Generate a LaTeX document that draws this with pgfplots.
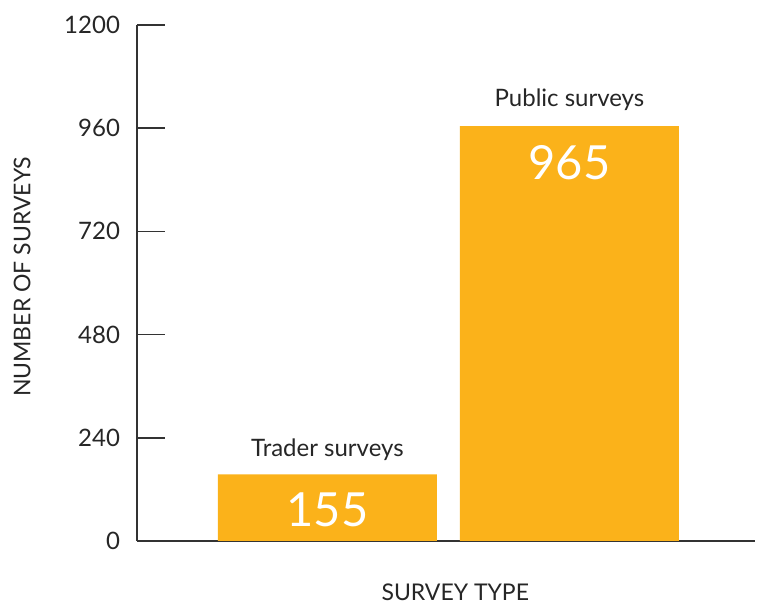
\documentclass[border=0pt]{standalone}
\usepackage{pgfplots}
\pgfplotsset{compat=1.18}
\usepackage{fontspec}
\setmainfont{Lato}
\definecolor{barorange}{RGB}{251,178,26}
\definecolor{axgray}{RGB}{51,51,51}
\begin{document}
\begin{tikzpicture}
\path[use as bounding box] (-68.5pt,-31pt) rectangle (315.5pt,270.5pt);
\begin{axis}[
  at={(0,0)}, anchor=origin,
  scale only axis, width=309pt, height=258pt,
  xmin=0.213, xmax=2.767, ymin=0, ymax=1200,
  axis x line*=bottom, axis y line*=left,
  axis line style={axgray, line width=0.8pt},
  xtick=\empty,
  ytick={0,240,480,720,960,1200},
  tick align=inside, major tick length=14pt,
  tick style={axgray, line width=0.8pt},
  /pgf/number format/assume math mode=true,
  /pgf/number format/1000 sep={},
  yticklabel style={font=\fontsize{12}{14}\selectfont, text=black!85, xshift=-5pt},
  ylabel={NUMBER OF SURVEYS},
  xlabel={SURVEY TYPE},
  label style={font=\fontsize{11.5}{13}\selectfont, text=black!85},
  ylabel style={at={(axis description cs:-0.186,0.512)}, anchor=center, rotate=0},
  xlabel style={at={(axis description cs:0.515,0)}, anchor=center, yshift=-25.5pt},
  ybar, bar width=0.905,
]
\addplot[fill=barorange, draw=none] coordinates {(1,155) (2,965)};
\node[font=\fontsize{12}{14}\selectfont, text=black!85] at (axis cs:1,212) {Trader surveys};
\node[font=\fontsize{12}{14}\selectfont, text=black!85] at (axis cs:2,1026) {Public surveys};
\node[font=\fontsize{23.5}{27}\selectfont, text=white] at (axis cs:1,72) {155};
\node[font=\fontsize{23.5}{27}\selectfont, text=white] at (axis cs:2,880) {965};
\end{axis}
\end{tikzpicture}
\end{document}
